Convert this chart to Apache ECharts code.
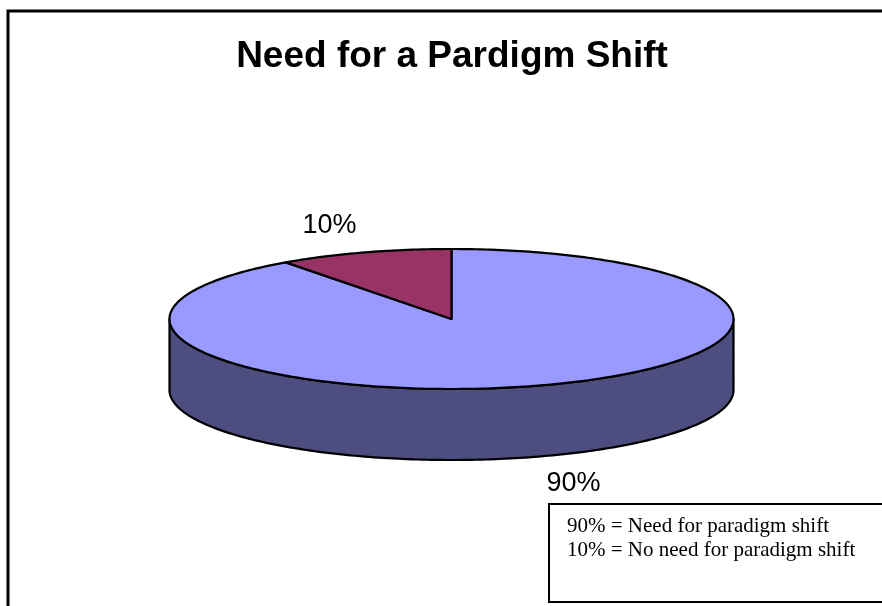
<!DOCTYPE html>
<html>
<head>
<meta charset="utf-8">
<title>Need for a Pardigm Shift</title>
<script src="https://cdn.jsdelivr.net/npm/echarts@6/dist/echarts.min.js"></script>
<style>
  html, body { margin: 0; padding: 0; background: #ffffff; }
  #chart { width: 882px; height: 606px; }
</style>
</head>
<body>
<div id="chart"></div>
<script>
// Survey answers, in slice order (clockwise from 12 o'clock)
const sliceNames = ['Need for paradigm shift', 'No need for paradigm shift'];
const sliceValues = [90, 10];
const topColors = ['#9999FF', '#993366'];
const sideColors = ['#4D4D80', '#4D1A33'];
const chartTitle = 'Need for a Pardigm Shift';

// Tilted-disc geometry
const PIE = { cx: 451.5, cy: 319, rx: 282, ry: 70, depth: 71, labelFactor: 1.4 };

const total = sliceValues.reduce((a, b) => a + b, 0);
const startAngles = [];
let acc = 0;
sliceValues.forEach(v => { startAngles.push(acc / total * 360); acc += v; });

function rimPoint(deg, dy) {
  const r = deg * Math.PI / 180;
  return [PIE.cx + PIE.rx * Math.sin(r), PIE.cy - PIE.ry * Math.cos(r) + (dy || 0)];
}

function arcPoints(a, b, dy) {
  const pts = [];
  const steps = Math.max(2, Math.ceil(Math.abs(b - a)));
  for (let i = 0; i <= steps; i++) pts.push(rimPoint(a + (b - a) * i / steps, dy));
  return pts;
}

function percentText(v) {
  return Math.round(v / total * 100) + '%';
}

function renderSlice(params, api) {
  const i = params.dataIndex;
  const v = api.value(0);
  const a = startAngles[i];
  const b = a + v / total * 360;
  const children = [];

  // Front wall: only the part of the rim facing the viewer (90..270 deg)
  const fa = Math.max(a, 90), fb = Math.min(b, 270);
  if (fb > fa) {
    const top = arcPoints(fa, fb, 0);
    const bottom = arcPoints(fa, fb, PIE.depth).reverse();
    children.push({
      type: 'polygon', z2: 1,
      shape: { points: top.concat(bottom) },
      style: { fill: sideColors[i], stroke: '#000', lineWidth: 2.2, lineJoin: 'round' }
    });
  }

  // Upper face of the slice
  children.push({
    type: 'polygon', z2: 10,
    shape: { points: [[PIE.cx, PIE.cy]].concat(arcPoints(a, b, 0)) },
    style: { fill: topColors[i], stroke: '#000', lineWidth: 2.2, lineJoin: 'round' }
  });

  // Percentage label outside the rim
  const mid = (a + b) / 2 * Math.PI / 180;
  const cosm = Math.cos(mid);
  const lx = PIE.cx + PIE.labelFactor * PIE.rx * Math.sin(mid);
  const ly = PIE.cy - PIE.labelFactor * PIE.ry * cosm + (cosm < 0 ? PIE.depth : 0);
  children.push({
    type: 'text', z2: 20,
    style: {
      x: lx, y: ly, text: percentText(v),
      fill: '#000', font: '27px "Liberation Sans", Arial, sans-serif',
      textAlign: 'center', textVerticalAlign: 'middle'
    }
  });

  return { type: 'group', children: children };
}

const legendLines = sliceValues.map((v, i) => percentText(v) + ' = ' + sliceNames[i]).join('\n');

const chart = echarts.init(document.getElementById('chart'), null, { renderer: 'canvas' });
chart.setOption({
  backgroundColor: '#ffffff',
  animation: false,
  graphic: [
    {
      type: 'rect', z: 0, silent: true,
      shape: { x: 8, y: 11, width: 900, height: 700 },
      style: { fill: 'none', stroke: '#000', lineWidth: 3 }
    },
    {
      type: 'text', z: 6, silent: true,
      style: {
        x: 452, y: 57, text: chartTitle,
        fill: '#000', font: 'bold 37px "Liberation Sans", Arial, sans-serif',
        textAlign: 'center', textVerticalAlign: 'middle'
      }
    },
    {
      type: 'rect', z: 5, silent: true,
      shape: { x: 549, y: 504, width: 360, height: 98 },
      style: { fill: '#fff', stroke: '#000', lineWidth: 2 }
    },
    {
      type: 'text', z: 6, silent: true,
      style: {
        x: 567, y: 514, text: legendLines,
        fill: '#000', font: '21px "Liberation Serif", "Times New Roman", serif',
        lineHeight: 24, textAlign: 'left', textVerticalAlign: 'top'
      }
    }
  ],
  series: [{
    type: 'custom',
    coordinateSystem: 'none',
    renderItem: renderSlice,
    data: sliceValues.map((v, i) => ({ name: sliceNames[i], value: [v] }))
  }]
});
</script>
</body>
</html>
